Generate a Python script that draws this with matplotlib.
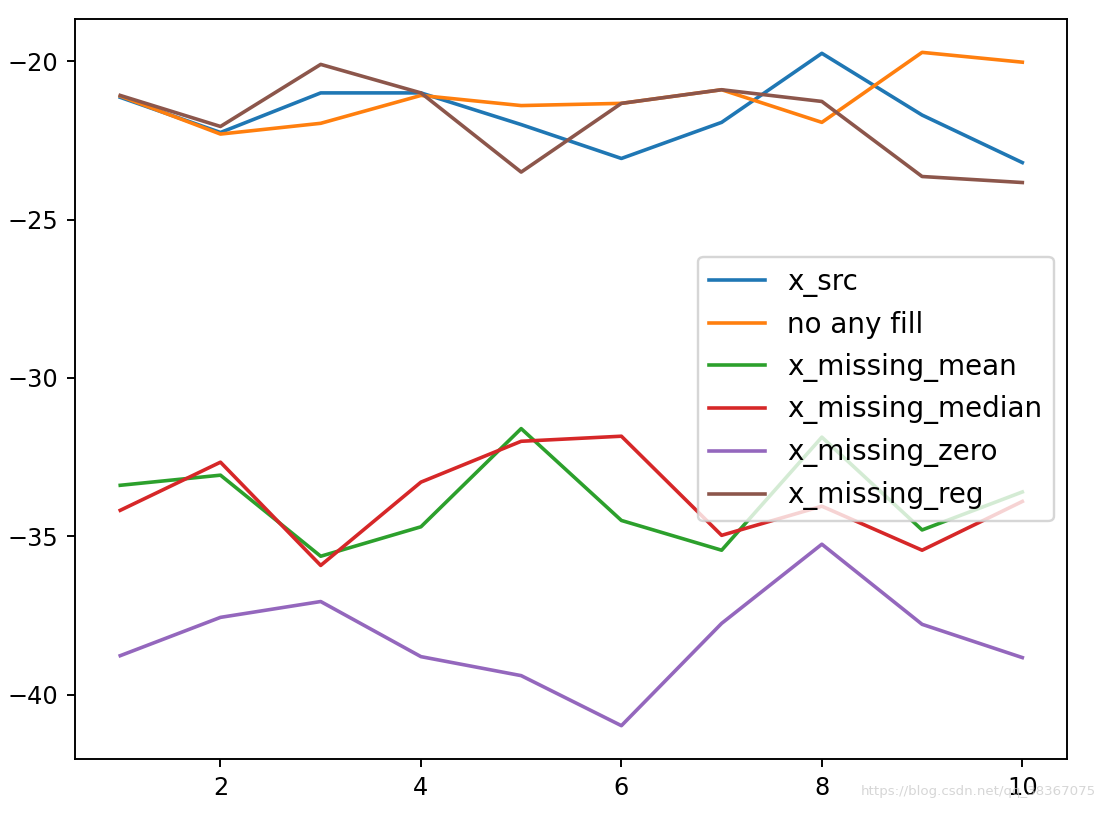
import matplotlib
matplotlib.use("Agg")
import matplotlib.pyplot as plt

x = [1, 2, 3, 4, 5, 6, 7, 8, 9, 10]
x_src = [-21.14, -22.25, -21.0, -21.0, -22.0, -23.07, -21.93, -19.75, -21.7, -23.2]
no_fill = [-21.1, -22.3, -21.96, -21.08, -21.4, -21.33, -20.9, -21.93, -19.72, -20.03]
x_missing_mean = [-33.39, -33.07, -35.63, -34.7, -31.6, -34.5, -35.44, -31.87, -34.8, -33.6]
x_missing_median = [-34.18, -32.66, -35.92, -33.29, -32.0, -31.84, -34.97, -34.05, -35.44, -33.9]
x_missing_zero = [-38.77, -37.56, -37.06, -38.8, -39.4, -40.98, -37.75, -35.25, -37.78, -38.83]
x_missing_reg = [-21.08, -22.06, -20.1, -21.0, -23.5, -21.33, -20.9, -21.27, -23.64, -23.83]

dpi = 172.5
fig = plt.figure(figsize=(1105 / dpi, 813 / dpi), dpi=dpi)
ax = fig.add_subplot(111)
fig.subplots_adjust(left=0.068, right=0.966, top=0.977, bottom=0.066)

ax.plot(x, x_src, label="x_src")
ax.plot(x, no_fill, label="no any fill")
ax.plot(x, x_missing_mean, label="x_missing_mean")
ax.plot(x, x_missing_median, label="x_missing_median")
ax.plot(x, x_missing_zero, label="x_missing_zero")
ax.plot(x, x_missing_reg, label="x_missing_reg")
ax.legend(loc="center right", fontsize=11.6)

# csdn watermark, bottom right corner
fig.text(0.992, 0.018, "https://blog.csdn.net/qq_38367075", ha="right", va="bottom",
         fontsize=5.6, color="#cccccc", alpha=0.8)

fig.savefig("out.png", dpi=dpi)
